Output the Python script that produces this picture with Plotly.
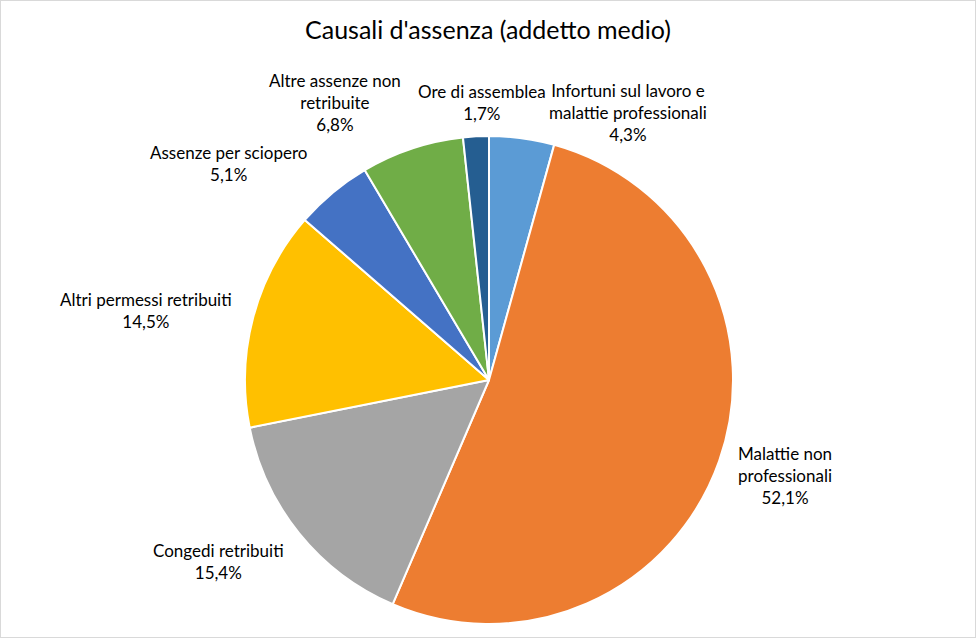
import plotly.graph_objects as go

labels = ["Infortuni sul lavoro e<br>malattie professionali", "Malattie non<br>professionali",
          "Congedi retribuiti", "Altri permessi retribuiti", "Assenze per sciopero",
          "Altre assenze non<br>retribuite", "Ore di assemblea"]
values = [4.3, 52.1, 15.4, 14.5, 5.1, 6.8, 1.7]
colors = ["#5B9BD5", "#ED7D31", "#A5A5A5", "#FFC000", "#4472C4", "#70AD47", "#255E91"]
title = "Causali d'assenza (addetto medio)"

# label block centers in pixels (layout only)
label_px = [(628, 113), (785, 475), (218, 561), (146, 310), (228, 163), (335, 102), (482, 102)]

W, H = 976, 638
cx, cy, r = 489, 380, 244

fig = go.Figure(go.Pie(
    labels=labels, values=values, sort=False, direction="clockwise", rotation=0,
    marker=dict(colors=colors, line=dict(color="white", width=2)),
    textinfo="none", hoverinfo="label+value",
    domain=dict(x=[(cx - r) / W, (cx + r) / W], y=[1 - (cy + r) / H, 1 - (cy - r) / H]),
))

annotations = []
for lab, v, (px, py) in zip(labels, values, label_px):
    annotations.append(dict(
        text=f"{lab}<br>{v:.1f}%".replace(".", ","),
        x=px / W, y=1 - py / H, xref="paper", yref="paper",
        xanchor="center", yanchor="middle", showarrow=False, align="center",
        font=dict(family="Lato", size=17, color="#000000"),
    ))
annotations.append(dict(
    text=title, x=488 / W, y=1 - 29 / H, xref="paper", yref="paper",
    xanchor="center", yanchor="middle", showarrow=False,
    font=dict(family="Lato", size=25, color="#000000"),
))

fig.update_layout(
    width=W, height=H, margin=dict(l=0, r=0, t=0, b=0),
    paper_bgcolor="white", plot_bgcolor="white", showlegend=False,
    annotations=annotations,
    shapes=[dict(type="rect", xref="paper", yref="paper", x0=0, y0=0, x1=1, y1=1,
                 line=dict(color="#D9D9D9", width=2))],
)
fig.write_html("out.html")
